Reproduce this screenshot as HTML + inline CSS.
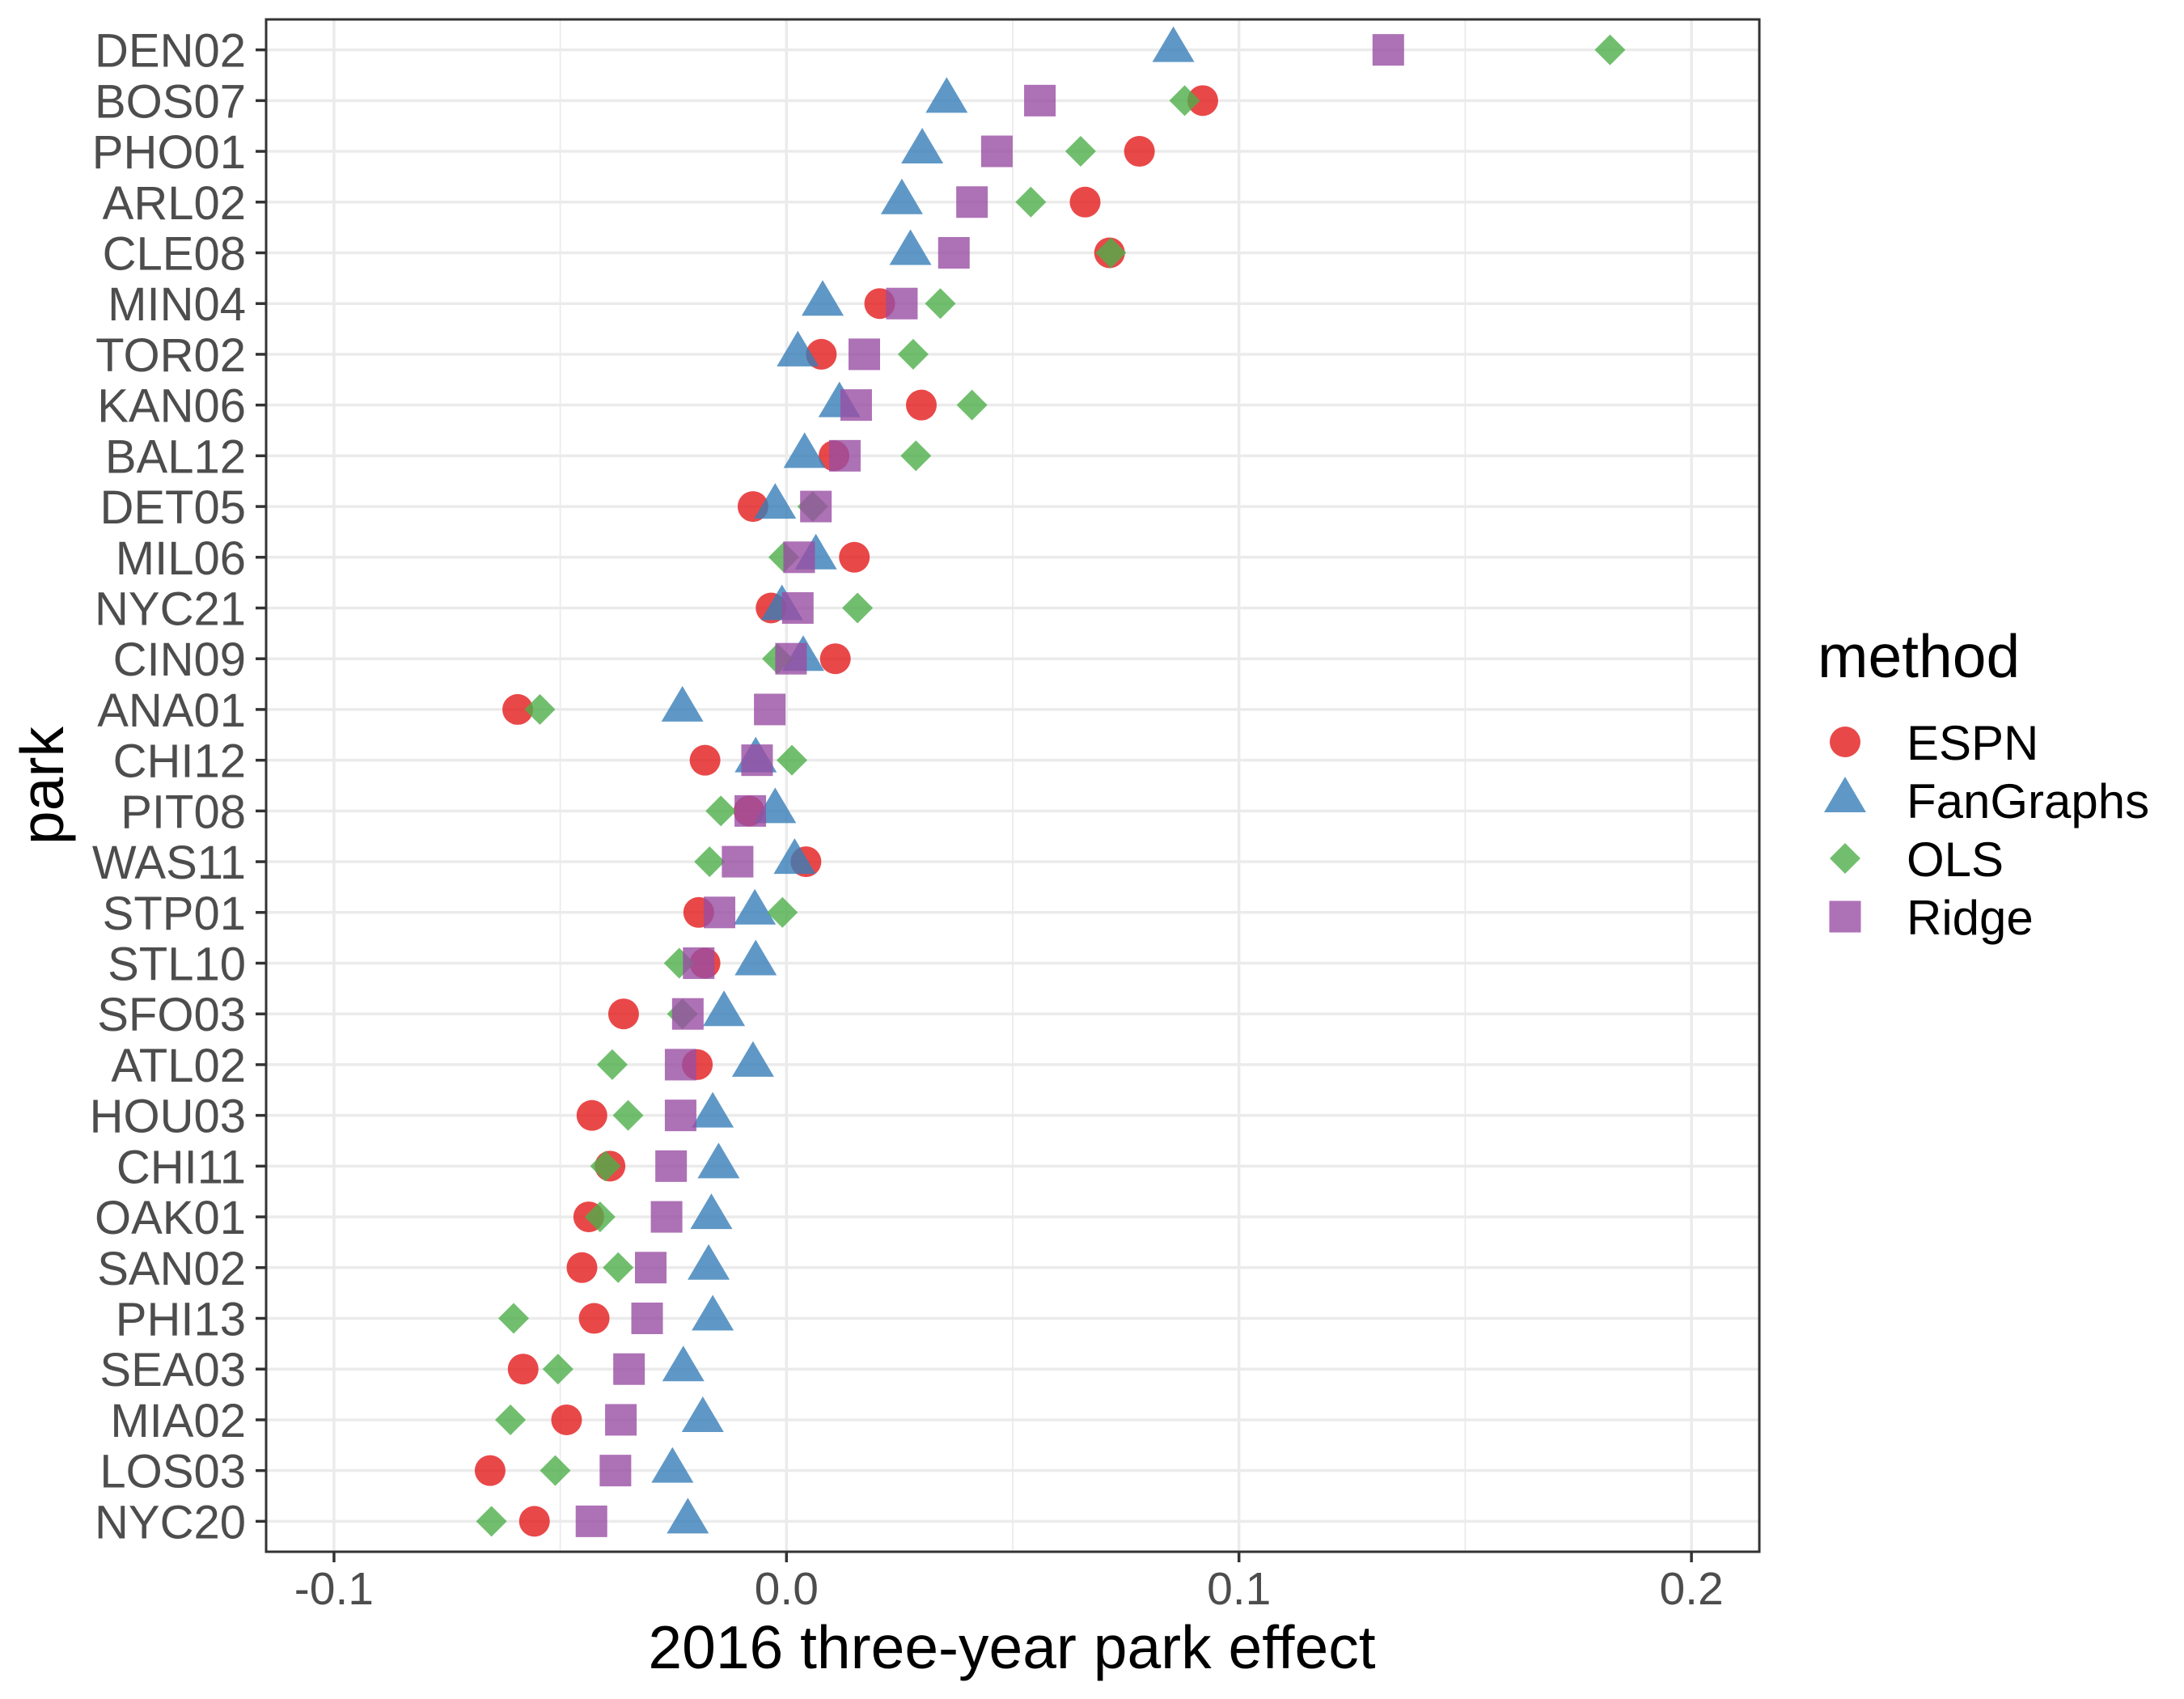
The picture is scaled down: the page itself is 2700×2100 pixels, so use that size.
<!DOCTYPE html>
<html><head><meta charset="utf-8"><style>
html,body{margin:0;padding:0;background:#fff;}
svg{display:block;font-family:"Liberation Sans",Arial,sans-serif;}
</style></head><body>
<svg id="chart" width="2700" height="2100" viewBox="0 0 2700 2100" xmlns="http://www.w3.org/2000/svg">
<rect x="0" y="0" width="2700" height="2100" fill="#fff"/>
<g id="grid"></g>
<g id="marks"></g>
<rect x="329" y="24" width="1846" height="1894" fill="none" stroke="#333" stroke-width="3"/>
<g id="axes"></g>
<text x="1251" y="2062" font-size="75" text-anchor="middle" fill="#000">2016 three-year park effect</text>
<text transform="translate(78,971) rotate(-90)" font-size="75" text-anchor="middle" fill="#000">park</text>
<g id="legend">
<text x="2247" y="837" font-size="75" fill="#000">method</text>
</g>
</svg>
<script>
const parks = ["DEN02","BOS07","PHO01","ARL02","CLE08","MIN04","TOR02","KAN06","BAL12","DET05","MIL06","NYC21","CIN09","ANA01","CHI12","PIT08","WAS11","STP01","STL10","SFO03","ATL02","HOU03","CHI11","OAK01","SAN02","PHI13","SEA03","MIA02","LOS03","NYC20"];
const espn = [null,0.092,0.078,0.066,0.0714,0.0206,0.0077,0.0298,0.0105,-0.0074,0.015,-0.0034,0.0108,-0.0594,-0.018,-0.0083,0.0043,-0.0194,-0.018,-0.036,-0.0197,-0.043,-0.039,-0.0437,-0.0452,-0.0425,-0.0582,-0.0486,-0.0655,-0.0557];
const fangraphs = [0.0855,0.0354,0.030,0.0255,0.0274,0.008,0.0025,0.0117,0.004,-0.0025,0.0065,-0.001,0.0037,-0.023,-0.0068,-0.0025,0.0018,-0.007,-0.0068,-0.0138,-0.0074,-0.0163,-0.015,-0.0166,-0.0172,-0.0163,-0.0228,-0.0185,-0.0252,-0.0218];
const ols = [0.182,0.088,0.065,0.054,0.0717,0.034,0.028,0.041,0.0286,0.0058,-0.0006,0.0157,-0.002,-0.0545,0.0012,-0.0145,-0.017,-0.0009,-0.0237,-0.023,-0.0385,-0.035,-0.04,-0.0412,-0.0372,-0.0603,-0.0505,-0.061,-0.0511,-0.0652];
const ridge = [0.133,0.056,0.0465,0.041,0.037,0.0255,0.0172,0.0154,0.0129,0.0065,0.0028,0.0025,0.001,-0.0037,-0.0065,-0.008,-0.0108,-0.0148,-0.0194,-0.0218,-0.0234,-0.0234,-0.0255,-0.0265,-0.030,-0.0308,-0.0348,-0.0366,-0.0378,-0.0431];
const xTicks = [-0.1,0,0.1,0.2];
const xTickLabels = ["-0.1","0.0","0.1","0.2"];
const xMinor = [-0.05,0.05,0.15];
const methods = ["ESPN","FanGraphs","OLS","Ridge"];

const NS="http://www.w3.org/2000/svg";
const X0=329,X1=2175,Y0=24,Y1=1918;
const xmin=-0.115,xmax=0.215;
function xs(v){return X0+(v-xmin)/(xmax-xmin)*(X1-X0);}
function ys(i){return Y0+(0.6+i)/30.2*(Y1-Y0);}
function mk(tag,attrs,parent){const e=document.createElementNS(NS,tag);for(const k in attrs)e.setAttribute(k,attrs[k]);parent.appendChild(e);return e;}
const grid=document.getElementById('grid'),marks=document.getElementById('marks'),axes=document.getElementById('axes'),legend=document.getElementById('legend');

xMinor.forEach(v=>{const l=mk('line',{x1:xs(v),x2:xs(v),y1:Y0,y2:Y1,stroke:'#ebebeb','stroke-width':1.8},grid);

});
xTicks.forEach((v,i)=>{const l=mk('line',{x1:xs(v),x2:xs(v),y1:Y0,y2:Y1,stroke:'#ebebeb','stroke-width':3.5},grid);


const t=mk('line',{x1:xs(v),x2:xs(v),y1:Y1,y2:Y1+13,stroke:'#333','stroke-width':3.5},axes);


const tx=mk('text',{x:xs(v),y:1983,'font-size':57,'text-anchor':'middle',fill:'#4d4d4d'},axes);
tx.textContent=xTickLabels[i];

});
parks.forEach((p,i)=>{const y=ys(i);
const l=mk('line',{x1:X0,x2:X1,y1:y,y2:y,stroke:'#ebebeb','stroke-width':3.5},grid);


const t=mk('line',{x1:X0-13,x2:X0,y1:y,y2:y,stroke:'#333','stroke-width':3.5},axes);


const tx=mk('text',{x:304,y:y+21,'font-size':58,'text-anchor':'end',fill:'#4d4d4d'},axes);
tx.textContent=p;

});

const cols={ESPN:'#e41a1c',FanGraphs:'#377eb8',OLS:'#4daf4a',Ridge:'#984ea3'};
function shape(m,cx,cy,parent){let e;
if(m==='ESPN')e=mk('circle',{cx:cx,cy:cy,r:19},parent);
else if(m==='FanGraphs')e=mk('polygon',{points:`${cx-26},${cy+15} ${cx+26},${cy+15} ${cx},${cy-29}`},parent);
else if(m==='OLS')e=mk('polygon',{points:`${cx},${cy-19} ${cx+19},${cy} ${cx},${cy+19} ${cx-19},${cy}`},parent);
else e=mk('rect',{x:cx-19.5,y:cy-19.5,width:39,height:39},parent);
e.setAttribute('fill',cols[m]);e.setAttribute('fill-opacity',0.8);return e;}
const series=[espn,fangraphs,ols,ridge];
series.forEach((arr,k)=>{arr.forEach((v,i)=>{if(v==null)return;
const e=shape(methods[k],xs(v),ys(i),marks);

});});

const ly=[917,989,1061,1133];
methods.forEach((m,k)=>{const e=shape(m,2281,ly[k],legend);


const t=mk('text',{x:2357,y:ly[k]+22,'font-size':60,fill:'#000'},legend);
t.textContent=m;

});
</script>
</body></html>
